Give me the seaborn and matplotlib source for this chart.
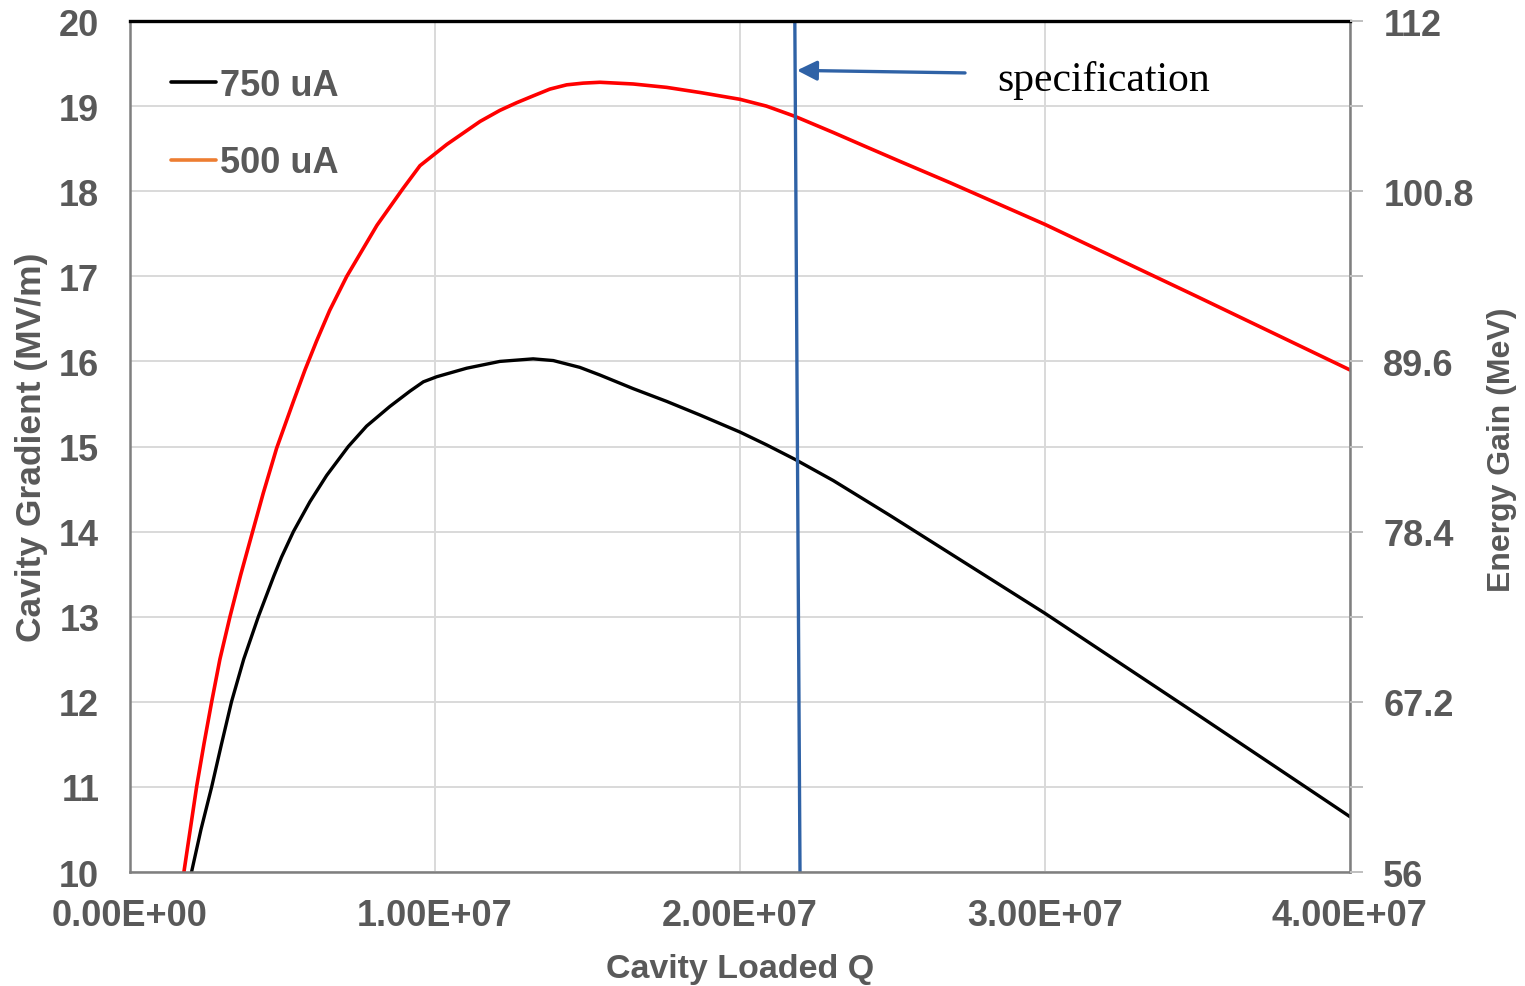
import pandas as pd
import matplotlib.pyplot as plt
import seaborn as sns
from matplotlib.lines import Line2D

# data (Q in units of 1e7, gradient in MV/m)
q_750 = [0.202, 0.233, 0.268, 0.300, 0.333, 0.373, 0.421, 0.472, 0.497, 0.536, 0.590,
         0.645, 0.716, 0.776, 0.852, 0.918, 0.962, 1.006, 1.104, 1.213, 1.322, 1.388,
         1.475, 1.541, 1.650, 1.760, 1.869, 2.0, 2.087, 2.180, 2.306, 2.492, 3.0, 3.5, 4.0]
g_750 = [10.0, 10.5, 11.0, 11.5, 12.0, 12.5, 13.0, 13.48, 13.70, 14.0, 14.35,
         14.66, 15.0, 15.24, 15.47, 15.65, 15.76, 15.82, 15.92, 16.0, 16.03, 16.01,
         15.93, 15.84, 15.68, 15.53, 15.37, 15.17, 15.02, 14.85, 14.60, 14.19, 13.04, 11.85, 10.65]

q_500 = [0.177, 0.219, 0.243, 0.268, 0.295, 0.328, 0.363, 0.393, 0.437, 0.481, 0.536,
         0.574, 0.612, 0.655, 0.711, 0.81, 0.895, 0.951, 1.039, 1.148, 1.213, 1.268, 1.322,
         1.377, 1.432, 1.486, 1.541, 1.650, 1.760, 1.869, 2.0, 2.087, 2.180, 2.306,
         2.415, 2.525, 2.689, 3.0, 3.5, 4.0]
g_500 = [10.0, 11.01, 11.51, 12.0, 12.5, 13.0, 13.49, 13.88, 14.45, 14.98, 15.53,
         15.9, 16.24, 16.6, 17.0, 17.6, 18.03, 18.30, 18.55, 18.82, 18.95, 19.04, 19.12,
         19.2, 19.25, 19.27, 19.28, 19.26, 19.22, 19.16, 19.08, 19.0, 18.88, 18.69,
         18.52, 18.35, 18.10, 17.61, 16.76, 15.90]

spec_q = [2.18, 2.197]
spec_g = [20, 10]

x_ticks = [0, 1, 2, 3, 4]
x_ticklabels = ['0.00E+00', '1.00E+07', '2.00E+07', '3.00E+07', '4.00E+07']
right_ticks = [56, 67.2, 78.4, 89.6, 100.8, 112]

df750 = pd.DataFrame({'Q': q_750, 'G': g_750})
df500 = pd.DataFrame({'Q': q_500, 'G': g_500})
dfspec = pd.DataFrame({'Q': spec_q, 'G': spec_g})

sns.set_theme(style='whitegrid')
plt.rcParams['font.family'] = ['Liberation Sans', 'DejaVu Sans']
grey = '#595959'

fig = plt.figure(figsize=(15.25, 9.87), dpi=100)
ax = fig.add_axes([0.0852, 0.1155, 0.8, 0.8622])

sns.lineplot(data=df500, x='Q', y='G', color='#ff0000', lw=2.6, sort=False, ax=ax)
sns.lineplot(data=df750, x='Q', y='G', color='black', lw=2.4, sort=False, ax=ax)
sns.lineplot(data=dfspec, x='Q', y='G', color='#2f62a6', lw=2.4, sort=False, ax=ax)

ax.set_xlim(0, 4)
ax.set_ylim(10, 20)
ax.set_xticks(x_ticks)
ax.set_xticklabels(x_ticklabels)
ax.set_yticks(range(10, 21))
ax.grid(True, color='#d9d9d9', lw=1.4)
ax.tick_params(axis='x', labelsize=26, labelcolor=grey, pad=19, length=0)
ax.tick_params(axis='y', labelsize=26, labelcolor=grey, pad=22, length=0)
for lab in ax.get_xticklabels() + ax.get_yticklabels():
    lab.set_fontweight('bold')

ax.set_xlabel('Cavity Loaded Q', fontsize=24.5, fontweight='bold', color=grey, labelpad=14)
ax.set_ylabel('Cavity Gradient (MV/m)', fontsize=25.5, fontweight='bold', color=grey, labelpad=8)

for s in ['left', 'bottom', 'right']:
    ax.spines[s].set_color('#7f7f7f')
    ax.spines[s].set_linewidth(1.8)
ax.spines['top'].set_color('black')
ax.spines['top'].set_linewidth(2.4)

# right axis: energy gain
ax2 = ax.twinx()
ax2.set_ylim(56, 112)
ax2.set_yticks(right_ticks)
ax2.set_yticklabels(['56', '67.2', '78.4', '89.6', '100.8', '112'])
ax2.set_yticks([61.6, 72.8, 84, 95.2, 106.4], minor=True)
ax2.grid(False)
ax2.tick_params(axis='y', which='both', direction='out', length=9, width=1.4, color='#bfbfbf',
                labelsize=26, labelcolor=grey, pad=15)
for lab in ax2.get_yticklabels():
    lab.set_fontweight('bold')
ax2.set_ylabel('Energy Gain (MeV)', fontsize=23, fontweight='bold', color=grey)
ax2.yaxis.set_label_coords(1.112, 0.497)
for s in ax2.spines.values():
    s.set_visible(False)

# specification arrow + note
ax.annotate('', xy=(2.187, 19.42), xytext=(2.738, 19.39),
            arrowprops=dict(arrowstyle='-|>', color='#2f62a6', lw=2.4, mutation_scale=30,
                            shrinkA=0, shrinkB=0))
ax.text(2.843, 19.31, 'specification', fontsize=30, family='Liberation Serif',
        color='black', ha='left', va='center')

handles = [Line2D([], [], color='black', lw=2.6), Line2D([], [], color='#ed7d31', lw=2.6)]
ax.legend(handles, ['750 uA', '500 uA'], loc='upper left', bbox_to_anchor=(0.019, 0.966),
          frameon=False, borderpad=0, handlelength=1.25, handletextpad=0.1,
          labelspacing=1.17, prop={'size': 26, 'weight': 'bold'}, labelcolor=grey)

plt.savefig('out.png', dpi=100)
